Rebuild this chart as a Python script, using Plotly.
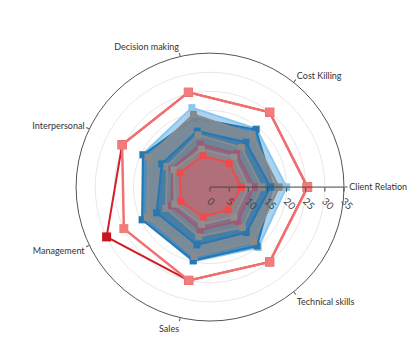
import plotly.graph_objects as go

categories = ["Client Relation", "Cost Killing", "Decision making", "Interpersonal",
              "Management", "Sales", "Technical skills"]

light_blue = [20.0, 19.5, 21.3, 19.6, 19.6, 19.9, 20.2]
dark_blue_1 = [16.5, 19.2, 18.5, 19.4, 19.7, 19.7, 19.7]
grey_1 = [18.0, 17.6, 19.5, 18.0, 18.2, 18.6, 18.2]
dark_blue_2 = [15.8, 15.0, 15.0, 14.0, 15.5, 15.5, 15.2]
grey_2 = [13.5, 13.2, 14.0, 12.5, 12.8, 13.2, 13.5]
mauve = [11.5, 11.2, 11.5, 11.0, 11.2, 11.5, 11.5]
grey_3 = [10.0, 10.0, 10.2, 10.5, 10.2, 10.0, 10.0]
red_inner = [8.2, 8.0, 8.4, 8.7, 8.5, 8.0, 7.6]
dark_red = [25.4, 25.0, 25.4, 25.5, 30.0, 25.0, 25.0]
salmon = [25.5, 25.0, 25.4, 25.5, 25.0, 25.0, 25.0]

radial_ticks = [0, 5, 10, 15, 20, 25, 30, 35]

series = [
    ("light_blue", light_blue, "#8cc6ec", "rgba(140,198,236,0.75)"),
    ("dark_blue_1", dark_blue_1, "#2777b0", "rgba(39,119,176,0.75)"),
    ("grey_1", grey_1, "#8a8a8a", "rgba(138,138,138,0.75)"),
    ("dark_blue_2", dark_blue_2, "#2777b0", "rgba(39,119,176,0.6)"),
    ("grey_2", grey_2, "#8a8a8a", "rgba(138,138,138,0.6)"),
    ("mauve", mauve, "#9c5a78", "rgba(160,90,120,0.55)"),
    ("grey_3", grey_3, "#8f8f8f", "rgba(143,143,143,0.6)"),
    ("red_inner", red_inner, "#f24a4a", "rgba(200,100,110,0.6)"),
]

fig = go.Figure()

def closed(v):
    return list(v) + [v[0]]

cats_closed = categories + [categories[0]]

for name, vals, lc, fc in series:
    fig.add_trace(go.Scatterpolar(
        r=closed(vals), theta=cats_closed, name=name,
        mode="lines+markers", fill="toself", fillcolor=fc,
        line=dict(color=lc, width=2),
        marker=dict(symbol="square", size=7, color=lc),
        showlegend=False,
    ))

fig.add_trace(go.Scatterpolar(
    r=closed(dark_red), theta=cats_closed, name="dark_red",
    mode="lines+markers", line=dict(color="#d0202a", width=2),
    marker=dict(symbol="square", size=9, color="#c8141e"), showlegend=False,
))
fig.add_trace(go.Scatterpolar(
    r=closed(salmon), theta=cats_closed, name="salmon",
    mode="lines+markers", line=dict(color="#f07070", width=2.5),
    marker=dict(symbol="square", size=9, color="#f27c7c"), showlegend=False,
))

fig.update_layout(
    width=417, height=364,
    margin=dict(l=0, r=0, t=0, b=0),
    paper_bgcolor="white", plot_bgcolor="white",
    font=dict(family="Lato", size=9, color="#333"),
    polar=dict(
        domain=dict(x=[0.163, 0.806], y=[0.140, 0.876]),
        bgcolor="white",
        angularaxis=dict(
            categoryarray=categories, categoryorder="array",
            direction="counterclockwise", rotation=0,
            showgrid=False, linecolor="#555", linewidth=1,
            ticks="outside", ticklen=3, tickcolor="#555",
            tickfont=dict(family="Lato", size=9, color="#333"),
        ),
        radialaxis=dict(
            range=[0, 35], tickvals=radial_ticks, angle=0,
            showline=True, linecolor="#444", linewidth=1,
            ticks="outside", ticklen=4, tickcolor="#444",
            tickangle=45, side="clockwise",
            gridcolor="#e8e8e8", gridwidth=1,
            tickfont=dict(family="Lato", size=10, color="#444"),
        ),
    ),
)

fig.write_html("out.html")
